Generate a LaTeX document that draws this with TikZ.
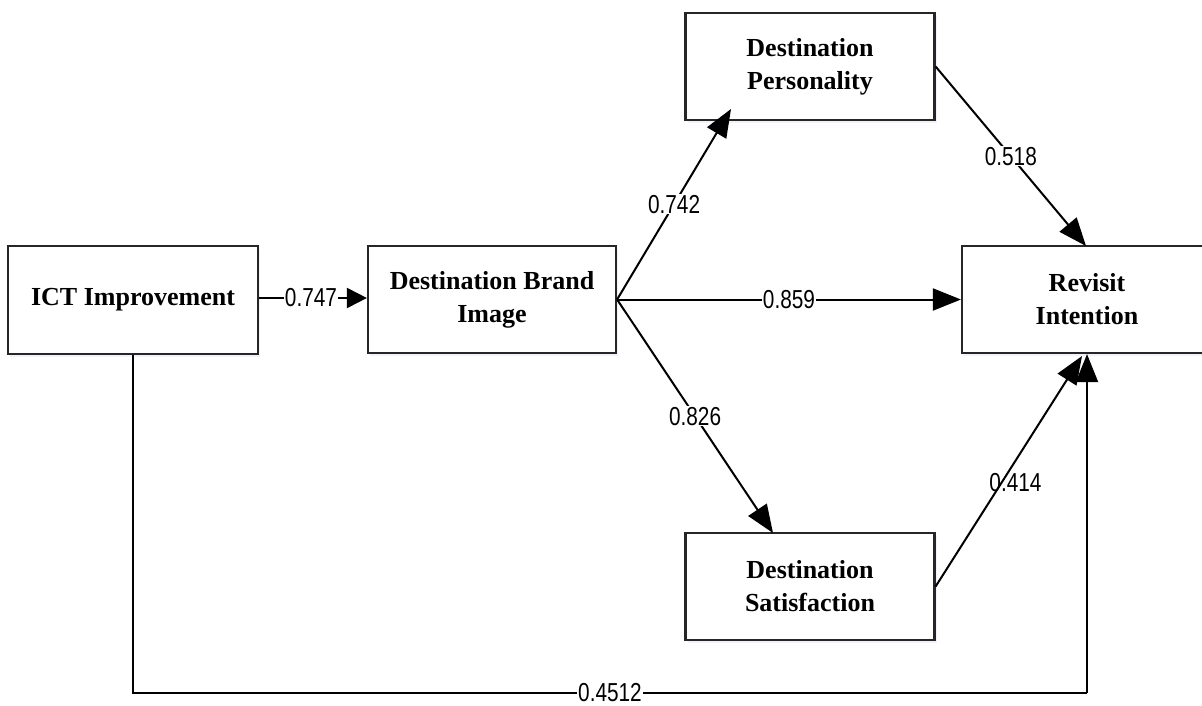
\documentclass[tikz,border=0pt]{standalone}
\usepackage{fontspec}
\setmainfont{Liberation Serif}
\newfontfamily\lblfont[FakeStretch=0.8]{Liberation Sans}
\usetikzlibrary{arrows.meta,shadows}
\begin{document}
\begin{tikzpicture}[x=1pt,y=-1pt,
  box/.style={draw=black!85, line width=2.2pt, fill=white, rectangle, align=center,
    font=\bfseries\fontsize{26}{33}\selectfont, inner sep=0pt,
    drop shadow={shadow xshift=2pt, shadow yshift=-3pt, fill=blue!40, opacity=0.12}},
  conn/.style={line width=2pt, draw=black, -{Triangle[length=28pt,width=22pt]}},
  shortconn/.style={line width=2pt, draw=black, -{Triangle[length=20pt,width=20pt]}},
  plain/.style={line width=2pt, draw=black},
  lbl/.style={font=\lblfont\fontsize{26}{26}\selectfont, fill=white, inner sep=1pt},
  lblnofill/.style={font=\lblfont\fontsize{26}{26}\selectfont, inner sep=1pt}]
\useasboundingbox (0,0) rectangle (1202,706);
\clip (0,0) rectangle (1202,706);
\fill[white] (0,0) rectangle (1202,706);

\node[box, minimum width=250pt, minimum height=108pt] (ict) at (133,300) {ICT Improvement};
\node[box, minimum width=248pt, minimum height=107pt] (dbi) at (492,299.5) {Destination Brand\\Image};
\node[box, minimum width=249pt, minimum height=107pt] (dp) at (810,66.5) {Destination\\Personality};
\node[box, minimum width=250pt, minimum height=107pt] (ri) at (1087,299.5) {Revisit\\Intention};
\node[box, minimum width=249pt, minimum height=107pt] (ds) at (810,586.5) {Destination\\Satisfaction};

\coordinate (dptip) at (731,109);
\coordinate (dstip) at (773,533);
\coordinate (ritop) at (1086,246);
\coordinate (ribl) at (1082,356);
\coordinate (b1) at (133,693);
\coordinate (b2) at (1087,693);

\draw[shortconn] (ict.east |- 0,298) -- node[lbl, xshift=-2pt] {0.747} (dbi.west |- 0,298);
\draw[conn] (dbi.east) -- node[lbl, pos=0.5] {0.742} (dptip);
\draw[conn] (dbi.east) -- node[lbl] {0.859} (ri.west);
\draw[conn] (dbi.east) -- node[lbl] {0.826} (dstip);
\draw[conn] (dp.east) -- node[lbl] {0.518} (ritop);
\draw[conn] (ds.east) -- node[lblnofill, pos=0.45, xshift=14pt] {0.414} (ribl);
\draw[plain] (ict.south) -- (b1) -- node[lbl] {0.4512} (b2);
\draw[conn] (b2) -- (ri.south);
\end{tikzpicture}
\end{document}
